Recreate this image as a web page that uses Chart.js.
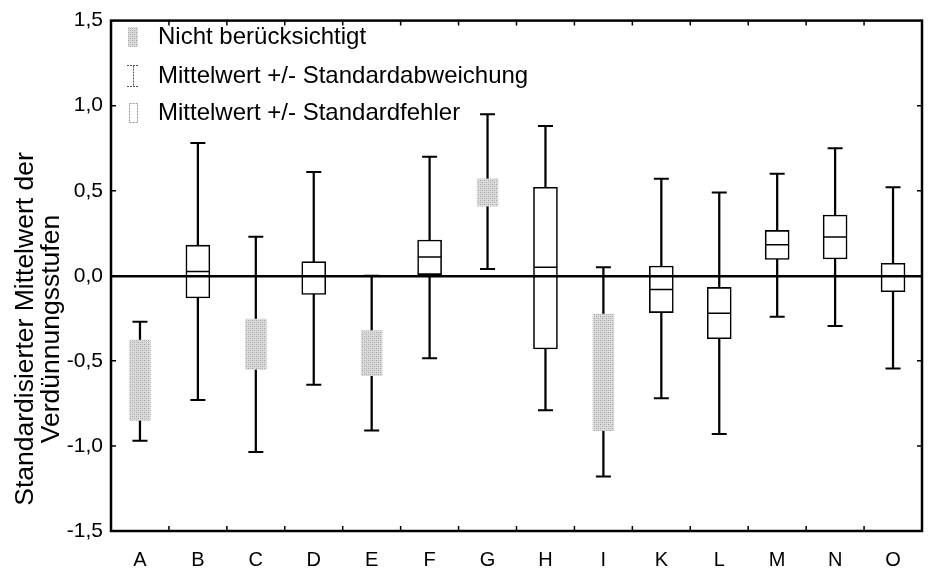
<!DOCTYPE html>
<html>
<head>
<meta charset="utf-8">
<script src="https://cdn.jsdelivr.net/npm/chart.js@4.4.1/dist/chart.umd.min.js"></script>
<style>
  html, body { margin: 0; padding: 0; background: #fff; }
  #wrap { width: 935px; height: 568px; }
</style>
</head>
<body>
<div id="wrap"><canvas id="chart" width="935" height="568"></canvas></div>
<script>
// Categories (no J in the original)
const labels = ['A', 'B', 'C', 'D', 'E', 'F', 'G', 'H', 'I', 'K', 'L', 'M', 'N', 'O'];

// true = "Nicht berücksichtigt" (grey box, no mean line)
const excluded = [true, false, true, false, true, false, true, false, true, false, false, false, false, false];

// Mean +/- standard deviation (whiskers)
const sdHigh = [-0.27, 0.78, 0.23, 0.61, 0.00, 0.70, 0.95, 0.88, 0.05, 0.57, 0.49, 0.60, 0.75, 0.52];
const sdLow  = [-0.97, -0.73, -1.035, -0.64, -0.91, -0.485, 0.04, -0.79, -1.18, -0.72, -0.93, -0.24, -0.295, -0.545];

// Mean +/- standard error (box)
const seHigh = [-0.368, 0.18, -0.245, 0.083, -0.312, 0.21, 0.58, 0.52, -0.216, 0.057, -0.068, 0.267, 0.357, 0.074];
const seLow  = [-0.86, -0.13, -0.56, -0.11, -0.597, 0.0, 0.40, -0.43, -0.92, -0.216, -0.37, 0.096, 0.099, -0.094];

// Mean (only drawn for included groups)
const means  = [-0.614, 0.025, -0.40, 0.0, -0.455, 0.11, 0.49, 0.05, -0.565, -0.08, -0.22, 0.183, 0.228, 0.0];

// y ticks
const yMin = -1.5, yMax = 1.5, yStep = 0.5;

const yTitle = ['Standardisierter Mittelwert der', 'Verdünnungsstufen'];

const FONT = '"Liberation Sans", Arial, Helvetica, sans-serif';

// stippled grey fill like the scanned original
function makeStipple() {
  const c = document.createElement('canvas');
  c.width = 4; c.height = 4;
  const g = c.getContext('2d');
  g.fillStyle = '#dcdcdc';
  g.fillRect(0, 0, 4, 4);
  g.fillStyle = '#9e9e9e';
  g.fillRect(0, 0, 1, 1);
  g.fillRect(2, 2, 1, 1);
  g.fillStyle = '#bebebe';
  g.fillRect(2, 0, 1, 1);
  g.fillRect(0, 2, 1, 1);
  return g.createPattern(c, 'repeat');
}
const stipple = makeStipple();

const boxColors = excluded.map(e => e ? stipple : '#ffffff');
const boxBorders = excluded.map(e => e ? 'rgba(0,0,0,0)' : '#000000');
const meanShown = means.map((m, i) => excluded[i] ? null : m);

// frame, inner tick marks, y title and legend
const framePlugin = {
  id: 'frame',
  afterDraw(chart) {
    const { ctx, chartArea: a, scales } = chart;
    ctx.save();
    ctx.strokeStyle = '#000';
    ctx.lineWidth = 2.5;
    ctx.strokeRect(a.left, a.top, a.right - a.left, a.bottom - a.top);

    // inner ticks
    ctx.lineWidth = 1.5;
    ctx.beginPath();
    for (let v = yMin + yStep; v < yMax; v += yStep) {
      const y = scales.y.getPixelForValue(v);
      ctx.moveTo(a.left, y); ctx.lineTo(a.left + 5, y);
      ctx.moveTo(a.right, y); ctx.lineTo(a.right - 5, y);
    }
    for (let i = 0; i < labels.length - 1; i++) {
      const x = (scales.x.getPixelForValue(i) + scales.x.getPixelForValue(i + 1)) / 2;
      ctx.moveTo(x, a.bottom); ctx.lineTo(x, a.bottom - 5);
      ctx.moveTo(x, a.top); ctx.lineTo(x, a.top + 5);
    }
    ctx.stroke();

    // y axis title, a bit below the middle as in the original
    ctx.save();
    ctx.translate(26, 329);
    ctx.rotate(-Math.PI / 2);
    ctx.fillStyle = '#000';
    ctx.font = '26.5px ' + FONT;
    ctx.textAlign = 'center';
    ctx.textBaseline = 'middle';
    ctx.fillText(yTitle[0], 0, 0);
    ctx.fillText(yTitle[1], 0, 26);
    ctx.restore();

    // legend inside plot
    const lx = a.left + 16;
    ctx.fillStyle = stipple;
    ctx.fillRect(lx + 1, 27, 10, 20);

    ctx.strokeStyle = '#555';
    ctx.lineWidth = 1;
    ctx.setLineDash([2, 1]);
    ctx.beginPath();
    ctx.moveTo(lx, 65.5); ctx.lineTo(lx + 12, 65.5);
    ctx.moveTo(lx + 6.5, 65.5); ctx.lineTo(lx + 6.5, 86.5);
    ctx.moveTo(lx, 86.5); ctx.lineTo(lx + 12, 86.5);
    ctx.stroke();

    ctx.strokeStyle = '#999';
    ctx.strokeRect(lx + 2.5, 103.5, 8, 19);
    ctx.setLineDash([]);

    ctx.fillStyle = '#000';
    ctx.font = '24px ' + FONT;
    ctx.textBaseline = 'middle';
    ctx.fillText('Nicht berücksichtigt', lx + 31, 37);
    ctx.fillText('Mittelwert +/- Standardabweichung', lx + 31, 76);
    ctx.fillText('Mittelwert +/- Standardfehler', lx + 31, 113);
    ctx.restore();
  }
};

new Chart(document.getElementById('chart').getContext('2d'), {
  type: 'bar',
  data: {
    labels: labels,
    datasets: [
      {
        // mean line
        type: 'line',
        data: meanShown,
        showLine: false,
        pointStyle: 'line',
        pointRadius: 11.5,
        pointBorderWidth: 1.5,
        pointBorderColor: '#000',
        order: 0
      },
      {
        // upper whisker cap
        type: 'line',
        data: sdHigh,
        showLine: false,
        pointStyle: 'line',
        pointRadius: 7.5,
        pointBorderWidth: 2,
        pointBorderColor: '#000',
        order: 0
      },
      {
        // lower whisker cap
        type: 'line',
        data: sdLow,
        showLine: false,
        pointStyle: 'line',
        pointRadius: 7.5,
        pointBorderWidth: 2,
        pointBorderColor: '#000',
        order: 0
      },
      {
        // standard error box
        data: labels.map((_, i) => [seLow[i], seHigh[i]]),
        backgroundColor: boxColors,
        borderColor: boxBorders,
        borderWidth: 1.6,
        borderSkipped: false,
        barThickness: 24,
        grouped: false,
        order: 1
      },
      {
        // standard deviation whisker
        data: labels.map((_, i) => [sdLow[i], sdHigh[i]]),
        backgroundColor: '#000',
        borderWidth: 0,
        barThickness: 1.6,
        grouped: false,
        order: 2
      }
    ]
  },
  options: {
    responsive: false,
    animation: false,
    layout: { padding: { top: 15, right: 8, left: 0, bottom: 0 } },
    plugins: {
      legend: { display: false },
      tooltip: { enabled: false }
    },
    scales: {
      x: {
        offset: true,
        grid: { display: false, drawTicks: false },
        border: { display: false },
        ticks: {
          color: '#000',
          font: { family: FONT, size: 20 },
          padding: 17
        },
        afterFit: s => { s.height = 37; }
      },
      y: {
        min: yMin,
        max: yMax,
        grid: {
          z: 1,
          drawTicks: false,
          lineWidth: c => c.tick && c.tick.value === 0 ? 2.5 : 0,
          color: c => c.tick && c.tick.value === 0 ? '#000' : 'rgba(0,0,0,0)'
        },
        border: { display: false },
        ticks: {
          stepSize: yStep,
          color: '#000',
          font: { family: FONT, size: 21 },
          padding: 8,
          callback: v => v.toFixed(1).replace('.', ',')
        },
        title: { display: false },
        afterFit: s => { s.width = 111; }
      }
    }
  },
  plugins: [framePlugin]
});
</script>
</body>
</html>
